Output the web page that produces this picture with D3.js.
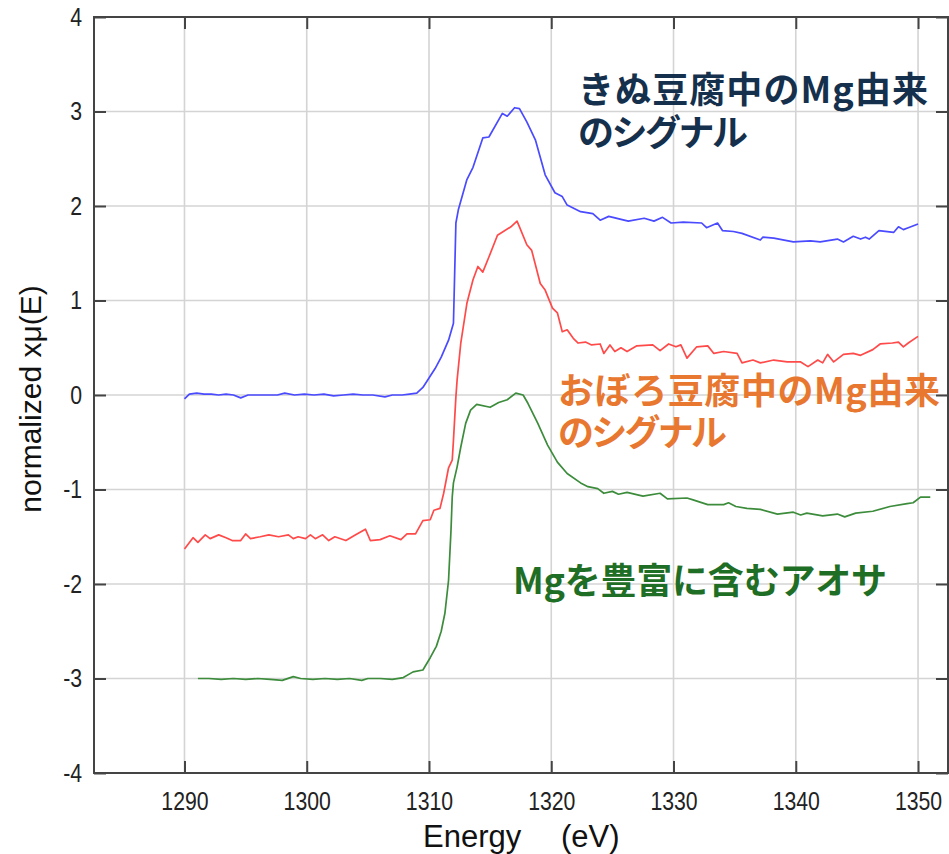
<!DOCTYPE html>
<html>
<head>
<meta charset="utf-8">
<script src="https://cdn.jsdelivr.net/npm/d3@7"></script>
<style>
  body { margin: 0; background: #fff; }
  svg text { font-family: "Liberation Sans", Arial, sans-serif; }
  .jp { font-family: "Noto Sans CJK JP", sans-serif; font-weight: 700; }
</style>
</head>
<body>
<div id="chart"></div>
<script>
// Mg K-edge XANES spectra (normalized, offset)
var xTicks = [1290, 1300, 1310, 1320, 1330, 1340, 1350];
var yTicks = [-4, -3, -2, -1, 0, 1, 2, 3, 4];

// きぬ豆腐 (blue)
var kinuE = [1290.0, 1290.4, 1291.0, 1291.6, 1292.2, 1292.8, 1293.4, 1294.0, 1294.6, 1295.2, 1296.0, 1296.8, 1297.6, 1298.2, 1299.0, 1299.8, 1300.6, 1301.4, 1302.2, 1303.0, 1303.8, 1304.6, 1305.4, 1306.4, 1307.0, 1307.8, 1308.4, 1309.0, 1309.5, 1310.0, 1310.5, 1311.0, 1311.6, 1312.0, 1312.2, 1312.4, 1313.1, 1313.6, 1314.4, 1314.9, 1316.0, 1316.4, 1317.0, 1317.4, 1318.0, 1318.7, 1319.5, 1320.3, 1320.9, 1321.3, 1322.4, 1323.4, 1324.0, 1324.7, 1326.3, 1327.6, 1328.4, 1329.1, 1329.8, 1330.8, 1332.3, 1332.7, 1333.6, 1334.0, 1334.9, 1335.6, 1337.1, 1337.3, 1338.2, 1339.8, 1341.2, 1342.0, 1343.4, 1343.9, 1344.7, 1345.3, 1345.7, 1346.0, 1346.8, 1348.0, 1348.4, 1348.8, 1349.2, 1350.0];
var kinuMu = [-0.04, 0.01, 0.02, 0.01, 0.01, 0.00, 0.01, 0.00, -0.03, 0.00, 0.00, 0.00, 0.00, 0.02, 0.00, 0.01, 0.00, 0.01, -0.01, 0.00, 0.01, 0.00, 0.00, -0.02, 0.00, 0.00, 0.01, 0.02, 0.08, 0.18, 0.28, 0.40, 0.58, 0.76, 1.82, 1.96, 2.28, 2.41, 2.72, 2.73, 2.98, 2.95, 3.04, 3.03, 2.89, 2.70, 2.33, 2.14, 2.10, 2.01, 1.94, 1.92, 1.85, 1.89, 1.84, 1.87, 1.84, 1.88, 1.82, 1.83, 1.82, 1.77, 1.82, 1.74, 1.73, 1.71, 1.64, 1.67, 1.66, 1.62, 1.63, 1.62, 1.65, 1.62, 1.68, 1.65, 1.67, 1.65, 1.74, 1.72, 1.78, 1.75, 1.77, 1.81];

// おぼろ豆腐 (red)
var oboroE = [1290.0, 1290.7, 1291.1, 1291.7, 1292.1, 1292.8, 1293.4, 1293.9, 1294.6, 1295.0, 1295.4, 1296.2, 1296.9, 1297.7, 1298.5, 1298.9, 1299.3, 1299.9, 1300.3, 1300.7, 1301.3, 1301.8, 1302.3, 1303.2, 1304.0, 1304.8, 1305.2, 1306.0, 1306.8, 1307.7, 1308.2, 1308.9, 1309.5, 1310.1, 1310.4, 1310.9, 1311.2, 1311.6, 1311.9, 1312.0, 1312.2, 1312.3, 1312.6, 1313.1, 1313.6, 1314.0, 1314.4, 1314.9, 1315.6, 1316.7, 1317.2, 1317.4, 1318.0, 1318.4, 1319.1, 1319.5, 1320.1, 1320.5, 1320.9, 1321.3, 1321.8, 1322.2, 1322.8, 1323.3, 1324.0, 1324.3, 1324.8, 1325.2, 1325.7, 1326.2, 1327.0, 1328.3, 1328.9, 1329.6, 1330.2, 1330.6, 1331.1, 1331.9, 1332.8, 1333.3, 1334.1, 1335.2, 1335.6, 1336.5, 1337.1, 1338.2, 1339.3, 1340.4, 1341.0, 1341.8, 1342.2, 1342.6, 1343.1, 1343.9, 1344.7, 1345.3, 1346.3, 1346.9, 1347.9, 1348.4, 1348.8, 1349.2, 1350.0];
var oboroMu = [-1.63, -1.51, -1.56, -1.48, -1.52, -1.48, -1.51, -1.54, -1.54, -1.47, -1.52, -1.50, -1.48, -1.50, -1.48, -1.52, -1.50, -1.52, -1.48, -1.52, -1.48, -1.54, -1.50, -1.54, -1.48, -1.42, -1.54, -1.53, -1.49, -1.53, -1.47, -1.47, -1.33, -1.32, -1.22, -1.20, -1.04, -0.77, -0.69, -0.48, -0.02, 0.16, 0.55, 0.97, 1.22, 1.36, 1.30, 1.46, 1.69, 1.78, 1.84, 1.78, 1.59, 1.53, 1.18, 1.11, 0.92, 0.87, 0.67, 0.69, 0.60, 0.55, 0.56, 0.53, 0.54, 0.44, 0.53, 0.46, 0.50, 0.46, 0.52, 0.53, 0.47, 0.54, 0.51, 0.53, 0.39, 0.51, 0.52, 0.44, 0.46, 0.44, 0.34, 0.37, 0.34, 0.37, 0.35, 0.35, 0.30, 0.37, 0.34, 0.43, 0.35, 0.43, 0.44, 0.42, 0.48, 0.54, 0.55, 0.56, 0.51, 0.55, 0.62];

// アオサ (green)
var aosaE = [1291.1, 1292.0, 1293.0, 1294.0, 1295.0, 1296.0, 1297.0, 1298.0, 1298.9, 1299.5, 1300.5, 1301.5, 1302.5, 1303.5, 1304.5, 1305.0, 1306.0, 1307.0, 1307.9, 1308.7, 1309.5, 1310.1, 1310.6, 1311.0, 1311.3, 1311.6, 1311.8, 1311.9, 1312.0, 1312.3, 1312.6, 1313.0, 1313.4, 1313.9, 1315.0, 1315.7, 1316.4, 1317.1, 1317.7, 1318.1, 1318.9, 1319.7, 1320.5, 1321.3, 1322.4, 1323.0, 1323.8, 1324.3, 1325.0, 1325.5, 1326.2, 1327.5, 1328.9, 1329.5, 1331.1, 1331.6, 1332.8, 1334.1, 1334.5, 1335.1, 1336.0, 1337.1, 1338.5, 1339.8, 1340.4, 1340.9, 1342.2, 1343.4, 1344.0, 1344.9, 1346.3, 1347.7, 1349.1, 1349.6, 1350.2, 1351.0];
var aosaMu = [-3.00, -3.00, -3.01, -3.00, -3.01, -3.00, -3.01, -3.02, -2.98, -3.00, -3.01, -3.00, -3.01, -3.00, -3.02, -3.00, -3.00, -3.01, -2.99, -2.93, -2.91, -2.78, -2.66, -2.50, -2.31, -1.96, -1.43, -1.08, -0.93, -0.76, -0.55, -0.30, -0.16, -0.10, -0.13, -0.08, -0.05, 0.02, 0.00, -0.09, -0.30, -0.53, -0.71, -0.83, -0.93, -0.97, -0.99, -1.04, -1.02, -1.05, -1.03, -1.07, -1.04, -1.10, -1.09, -1.11, -1.16, -1.16, -1.14, -1.18, -1.20, -1.21, -1.26, -1.24, -1.27, -1.25, -1.28, -1.26, -1.29, -1.25, -1.23, -1.18, -1.15, -1.14, -1.08, -1.08];

var width = 949, height = 854;
var margin = { top: 17, right: 1, bottom: 81, left: 94 };

var svg = d3
  .select("#chart")
  .append("svg")
  .attr("width", width)
  .attr("height", height);

var x = d3
  .scaleLinear()
  .domain([1282.6, 1352.45])
  .range([margin.left, width - margin.right]);

var y = d3
  .scaleLinear()
  .domain([-4, 4])
  .range([height - margin.bottom, margin.top]);

// grid
svg.append("g")
  .selectAll("line")
  .data(xTicks)
  .enter()
  .append("line")
  .attr("x1", (d) => x(d))
  .attr("x2", (d) => x(d))
  .attr("y1", y(-4))
  .attr("y2", y(4))
  .attr("stroke", "#d4d4d4")
  .attr("stroke-width", 1.6);

svg.append("g")
  .selectAll("line")
  .data(yTicks)
  .enter()
  .append("line")
  .attr("x1", x.range()[0])
  .attr("x2", x.range()[1])
  .attr("y1", (d) => y(d))
  .attr("y2", (d) => y(d))
  .attr("stroke", "#d4d4d4")
  .attr("stroke-width", 1.6);

// axes, ticks pointing inward
var tickLen = 12;
function styleAxis(g) {
  g.select(".domain").remove();
  g.selectAll(".tick line").attr("stroke", "#444").attr("stroke-width", 2);
  g.selectAll(".tick text")
    .attr("fill", "#222")
    .attr("font-size", null)
    .attr("transform", "scale(0.85,1)")
    .style("font-size", "25px");
}

var plain = (d) => String(d);

svg.append("g")
  .attr("transform", "translate(0," + y(-4) + ")")
  .call(d3.axisBottom(x).tickValues(xTicks).tickFormat(plain).tickSizeInner(-tickLen).tickPadding(19))
  .call(styleAxis);

svg.append("g")
  .attr("transform", "translate(0," + y(4) + ")")
  .call(d3.axisTop(x).tickValues(xTicks).tickFormat("").tickSizeInner(-tickLen))
  .call(styleAxis);

svg.append("g")
  .attr("transform", "translate(" + x.range()[0] + ",0)")
  .call(d3.axisLeft(y).tickValues(yTicks).tickFormat(plain).tickSizeInner(-tickLen).tickPadding(14))
  .call(styleAxis);

svg.append("g")
  .attr("transform", "translate(" + x.range()[1] + ",0)")
  .call(d3.axisRight(y).tickValues(yTicks).tickFormat("").tickSizeInner(-tickLen))
  .call(styleAxis);

// frame
svg.append("rect")
  .attr("x", x.range()[0])
  .attr("y", y(4))
  .attr("width", x.range()[1] - x.range()[0])
  .attr("height", y(-4) - y(4))
  .attr("fill", "none")
  .attr("stroke", "#444")
  .attr("stroke-width", 2);

// spectra
var line = d3
  .line()
  .x((d) => x(d[0]))
  .y((d) => y(d[1]));

var series = [
  { e: kinuE, mu: kinuMu, color: "#4a4aff" },
  { e: oboroE, mu: oboroMu, color: "#ff4a4a" },
  { e: aosaE, mu: aosaMu, color: "#3c8c3c" },
];

series.forEach(function (s) {
  svg.append("path")
    .datum(d3.zip(s.e, s.mu))
    .attr("d", line)
    .attr("fill", "none")
    .attr("stroke", s.color)
    .attr("stroke-width", 1.7)
    .attr("stroke-linejoin", "round");
});

// axis titles
svg.append("text")
  .attr("transform", "translate(41,399) rotate(-90)")
  .attr("text-anchor", "middle")
  .attr("fill", "#111")
  .style("font-size", "30px")
  .text("normalized xμ(E)");

var xTitle = svg.append("text")
  .attr("y", 847)
  .attr("fill", "#111")
  .style("font-size", "31px");
xTitle.append("tspan").attr("x", 423).text("Energy");
xTitle.append("tspan").attr("x", 561).text("(eV)");

// annotations (one text element per note, one tspan per line)
var notes = [
  { lines: ["きぬ豆腐中のMg由来", "のシグナル"], x: 578, y: [103, 146], w: [350, 170], color: "#15304c" },
  { lines: ["おぼろ豆腐中のMg由来", "のシグナル"], x: 558, y: [404, 446], w: [382, 169], color: "#e87730" },
  { lines: ["Mgを豊富に含むアオサ"], x: 513, y: [594], w: [374], color: "#1f6e26" },
];

notes.forEach(function (n) {
  var t = svg.append("text")
    .attr("class", "jp")
    .attr("fill", n.color)
    .style("font-size", "36px");
  n.lines.forEach(function (s, i) {
    t.append("tspan")
      .attr("x", n.x)
      .attr("y", n.y[i])
      .attr("textLength", n.w[i])
      .text(s);
  });
});
</script>
</body>
</html>
